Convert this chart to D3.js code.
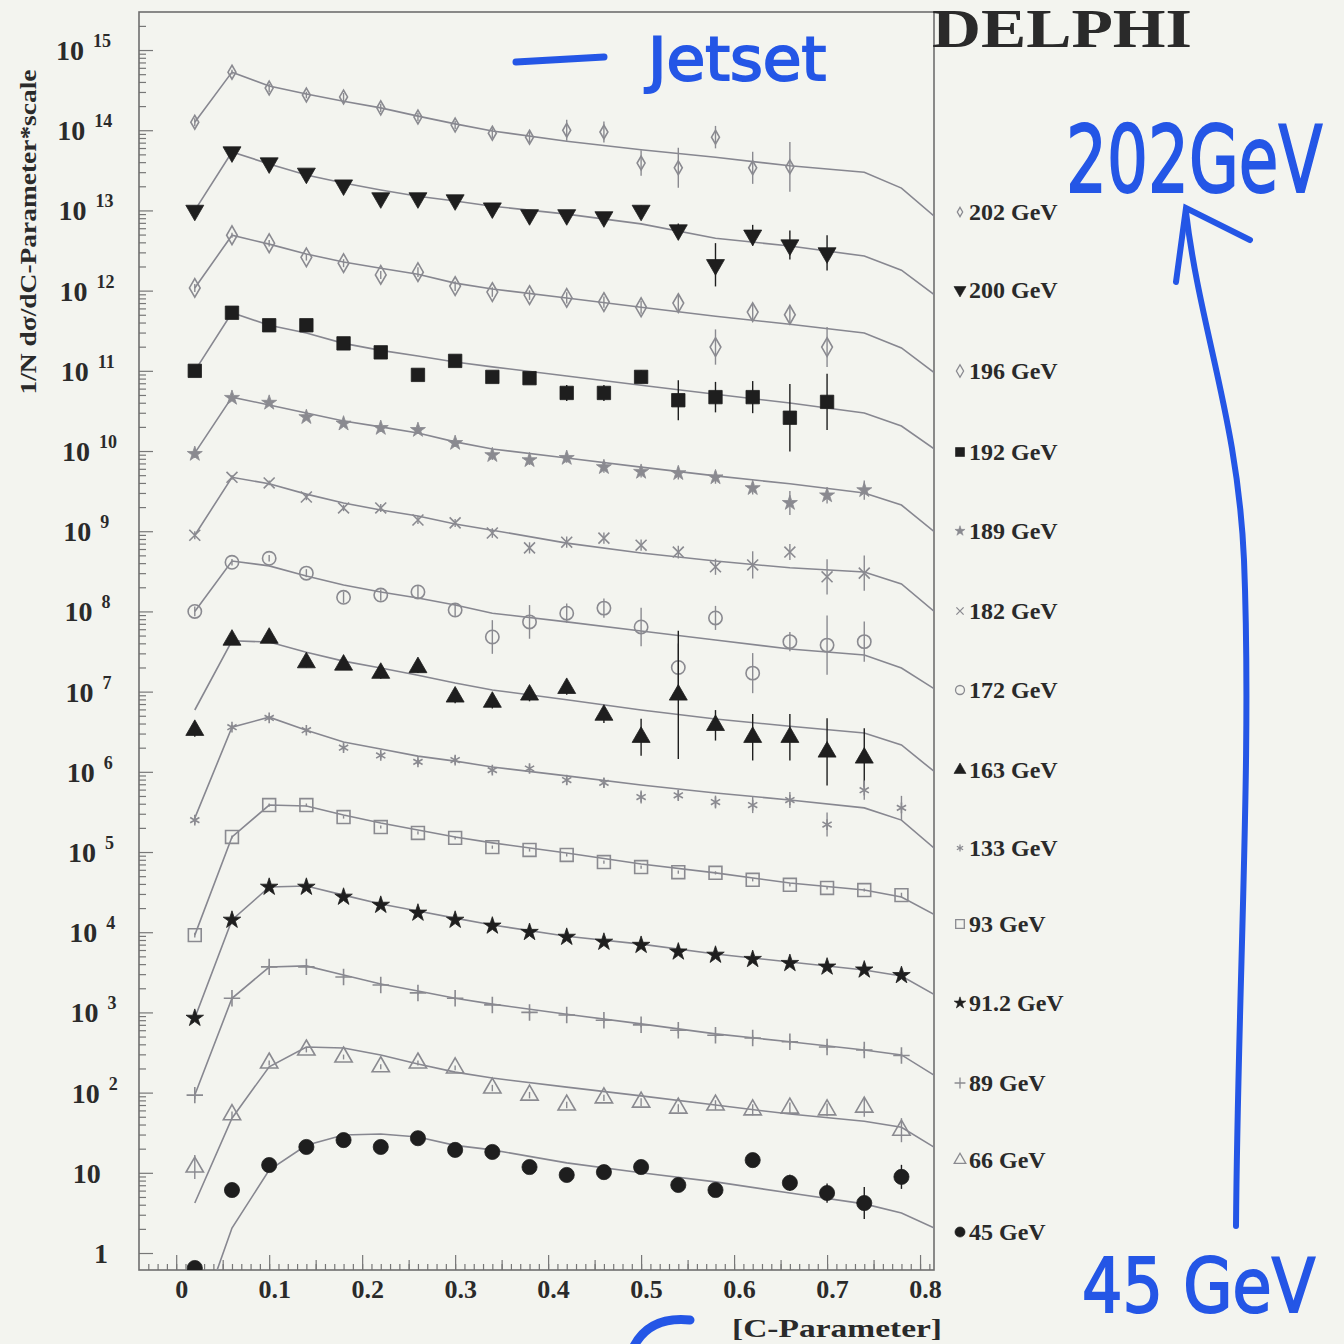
<!DOCTYPE html>
<html>
<head>
<meta charset="utf-8">
<script src="https://cdn.jsdelivr.net/npm/d3@7"></script>
<style>
  body { margin: 0; background: #f3f4ef; }
  svg text { font-family: "Liberation Serif", "Times New Roman", serif; font-weight: bold; fill: #2a2a2a; }
</style>
</head>
<body>
<svg id="chart" width="1344" height="1344"></svg>
<script>
// C-Parameter bin centres (data points)
const cBins = [0.02, 0.06, 0.10, 0.14, 0.18, 0.22, 0.26, 0.30, 0.34, 0.38,
               0.42, 0.46, 0.50, 0.54, 0.58, 0.62, 0.66, 0.70, 0.74, 0.78];
// x positions of the Jetset curve vertices
const lineX = [0.02, 0.06, 0.10, 0.14, 0.18, 0.22, 0.26, 0.30, 0.34, 0.42, 0.50, 0.58, 0.66, 0.74, 0.78, 0.82];

const energies = ['202 GeV', '200 GeV', '196 GeV', '192 GeV', '189 GeV', '182 GeV', '172 GeV',
                  '163 GeV', '133 GeV', '93 GeV', '91.2 GeV', '89 GeV', '66 GeV', '45 GeV'];

// measured 1/N dsigma/dC * scale, errors given in decades (log10 half-width)
const val202 = [1.26e14, 5.3e14, 3.35e14, 2.75e14, 2.6e14, 1.9e14, 1.46e14, 1.16e14, 9.2e13, 8.2e13, 1.0e14, 9.5e13, 3.9e13, 3.4e13, 8.2e13, 3.4e13, 3.5e13];
const err202 = [0.05, 0.03, 0.05, 0.04, 0.05, 0.05, 0.05, 0.05, 0.06, 0.07, 0.13, 0.13, 0.16, 0.25, 0.14, 0.2, 0.31];
const jet202 = [1.26e14, 5.3e14, 3.55e14, 2.83e14, 2.3e14, 1.9e14, 1.5e14, 1.2e14, 9.8e13, 7.3e13, 5.7e13, 4.6e13, 3.6e13, 3.0e13, 1.9e13, 7.6e12];

const val200 = [1.0e13, 5.35e13, 3.9e13, 2.9e13, 2.07e13, 1.43e13, 1.43e13, 1.35e13, 1.07e13, 8.8e12, 8.8e12, 8.3e12, 1.0e13, 5.7e12, 2.1e12, 4.9e12, 3.7e12, 2.95e12];
const err200 = [0.04, 0.03, 0.03, 0.03, 0.04, 0.04, 0.04, 0.05, 0.05, 0.05, 0.05, 0.06, 0.06, 0.08, 0.27, 0.13, 0.18, 0.22];
const jet200 = [1.0e13, 5.35e13, 3.8e13, 2.77e13, 2.2e13, 1.8e13, 1.5e13, 1.31e13, 1.13e13, 9.0e12, 6.8e12, 4.5e12, 3.6e12, 2.7e12, 1.8e12, 8.1e11];

const val196 = [1.08e12, 4.9e12, 3.9e12, 2.6e12, 2.2e12, 1.57e12, 1.7e12, 1.14e12, 9.6e11, 8.8e11, 8.1e11, 7.2e11, 6.2e11, 7.0e11, 1.98e11, 5.4e11, 5.0e11, 1.98e11];
const err196 = [0.05, 0.03, 0.04, 0.04, 0.05, 0.05, 0.06, 0.06, 0.06, 0.06, 0.07, 0.07, 0.08, 0.1, 0.22, 0.1, 0.12, 0.25];
const jet196 = [1.08e12, 4.9e12, 3.8e12, 2.86e12, 2.27e12, 1.9e12, 1.6e12, 1.24e12, 1.05e12, 8.1e11, 6.2e11, 4.8e11, 3.8e11, 2.96e11, 1.93e11, 8.6e10];

const val192 = [1.0e11, 5.3e11, 3.7e11, 3.7e11, 2.2e11, 1.7e11, 8.9e10, 1.33e11, 8.4e10, 8.1e10, 5.3e10, 5.3e10, 8.4e10, 4.3e10, 4.7e10, 4.7e10, 2.6e10, 4.1e10];
const err192 = [0.04, 0.03, 0.03, 0.04, 0.04, 0.05, 0.06, 0.06, 0.06, 0.07, 0.1, 0.1, 0.08, 0.25, 0.19, 0.2, 0.42, 0.35];
const jet192 = [1.0e11, 5.3e11, 3.7e11, 2.96e11, 2.2e11, 1.8e11, 1.53e11, 1.29e11, 1.12e11, 8.6e10, 6.6e10, 5.1e10, 3.97e10, 2.98e10, 2.05e10, 9.7e9];

const val189 = [9.2e9, 4.6e10, 4.0e10, 2.65e10, 2.2e10, 1.94e10, 1.83e10, 1.26e10, 8.9e9, 7.7e9, 8.2e9, 6.3e9, 5.5e9, 5.3e9, 4.7e9, 3.45e9, 2.25e9, 2.8e9, 3.25e9];
const err189 = [0.05, 0.03, 0.03, 0.04, 0.04, 0.05, 0.05, 0.05, 0.06, 0.06, 0.06, 0.07, 0.07, 0.08, 0.08, 0.08, 0.15, 0.1, 0.12];
const jet189 = [9.4e9, 4.7e10, 3.75e10, 2.98e10, 2.37e10, 2.0e10, 1.68e10, 1.3e10, 1.06e10, 8.2e9, 6.3e9, 4.9e9, 3.9e9, 3.0e9, 2.12e9, 8.9e8];

const val182 = [8.9e8, 4.7e9, 4.0e9, 2.67e9, 1.95e9, 1.95e9, 1.38e9, 1.27e9, 9.5e8, 6.2e8, 7.3e8, 8.2e8, 6.7e8, 5.5e8, 3.6e8, 3.8e8, 5.5e8, 2.7e8, 3.0e8];
const err182 = [0.05, 0.03, 0.03, 0.04, 0.04, 0.05, 0.05, 0.05, 0.06, 0.07, 0.07, 0.07, 0.07, 0.08, 0.1, 0.17, 0.1, 0.22, 0.22];
const jet182 = [8.9e8, 4.7e9, 3.9e9, 2.9e9, 2.25e9, 1.84e9, 1.55e9, 1.23e9, 1.03e9, 7.1e8, 5.35e8, 4.25e8, 3.5e8, 3.1e8, 2.2e8, 9.0e7];

const val172 = [1.0e8, 4.1e8, 4.6e8, 3.0e8, 1.5e8, 1.6e8, 1.75e8, 1.04e8, 4.8e7, 7.4e7, 9.5e7, 1.1e8, 6.4e7, 2.0e7, 8.3e7, 1.7e7, 4.2e7, 3.8e7, 4.2e7];
const err172 = [0.06, 0.04, 0.04, 0.05, 0.07, 0.07, 0.08, 0.08, 0.21, 0.21, 0.12, 0.12, 0.24, 0.3, 0.15, 0.25, 0.12, 0.37, 0.25];
const jet172 = [1.0e8, 4.25e8, 3.7e8, 2.77e8, 2.13e8, 1.75e8, 1.47e8, 1.2e8, 9.5e7, 7.4e7, 5.7e7, 4.4e7, 3.4e7, 2.86e7, 1.97e7, 1.0e7];

const val163 = [3.3e6, 4.4e7, 4.65e7, 2.3e7, 2.15e7, 1.7e7, 2.0e7, 8.6e6, 7.4e6, 9.1e6, 1.1e7, 5.1e6, 2.7e6, 9.1e6, 3.8e6, 2.7e6, 2.7e6, 1.77e6, 1.49e6];
const err163 = [0.08, 0.04, 0.04, 0.06, 0.06, 0.07, 0.07, 0.08, 0.08, 0.08, 0.08, 0.1, 0.23, 0.8, 0.19, 0.29, 0.29, 0.42, 0.37];
const jet163 = [5.9e6, 4.3e7, 4.15e7, 3.1e7, 2.4e7, 1.97e7, 1.6e7, 1.28e7, 1.05e7, 7.9e6, 5.9e6, 4.55e6, 3.7e6, 3.05e6, 2.16e6, 9.1e5];

const val133 = [2.5e5, 3.6e6, 4.7e6, 3.3e6, 2.0e6, 1.6e6, 1.33e6, 1.4e6, 1.05e6, 1.1e6, 7.9e5, 7.3e5, 4.85e5, 5.1e5, 4.2e5, 3.85e5, 4.45e5, 2.2e5, 5.9e5, 3.55e5];
const err133 = [0.05, 0.03, 0.03, 0.03, 0.04, 0.04, 0.04, 0.05, 0.05, 0.05, 0.06, 0.06, 0.08, 0.07, 0.08, 0.1, 0.1, 0.15, 0.12, 0.15];
const jet133 = [2.65e5, 3.6e6, 4.8e6, 3.3e6, 2.35e6, 1.93e6, 1.57e6, 1.36e6, 1.15e6, 8.9e5, 6.85e5, 5.45e5, 4.45e5, 3.55e5, 2.5e5, 1.0e5];

const val93 = [9.2e3, 1.54e5, 3.85e5, 3.85e5, 2.73e5, 2.05e5, 1.73e5, 1.5e5, 1.15e5, 1.06e5, 9.2e4, 7.5e4, 6.5e4, 5.6e4, 5.5e4, 4.5e4, 3.9e4, 3.56e4, 3.36e4, 2.9e4];
const err93 = [0.03, 0.02, 0.02, 0.02, 0.02, 0.02, 0.02, 0.02, 0.02, 0.02, 0.02, 0.02, 0.02, 0.02, 0.02, 0.02, 0.02, 0.02, 0.02, 0.03];
const jet93 = [9.2e3, 1.54e5, 3.85e5, 3.75e5, 2.9e5, 2.3e5, 1.88e5, 1.54e5, 1.3e5, 9.7e4, 7.1e4, 5.5e4, 4.1e4, 3.36e4, 2.75e4, 1.55e4];

const val912 = [8.5e2, 1.42e4, 3.66e4, 3.66e4, 2.75e4, 2.18e4, 1.74e4, 1.42e4, 1.2e4, 1.0e4, 8.7e3, 7.55e3, 6.9e3, 5.7e3, 5.2e3, 4.6e3, 4.1e3, 3.7e3, 3.4e3, 2.9e3];
const err912 = [0.02, 0.01, 0.01, 0.01, 0.01, 0.01, 0.01, 0.01, 0.01, 0.01, 0.01, 0.01, 0.01, 0.01, 0.01, 0.01, 0.01, 0.01, 0.01, 0.02];
const jet912 = [8.5e2, 1.42e4, 3.66e4, 3.77e4, 2.9e4, 2.25e4, 1.84e4, 1.5e4, 1.23e4, 8.9e3, 7.1e3, 5.35e3, 4.25e3, 3.38e3, 2.84e3, 1.56e3];

const val89 = [9.3e1, 1.5e3, 3.7e3, 3.7e3, 2.76e3, 2.2e3, 1.75e3, 1.5e3, 1.24e3, 1.0e3, 9.3e2, 8.0e2, 7.0e2, 6.0e2, 5.2e2, 4.8e2, 4.3e2, 3.7e2, 3.4e2, 2.9e2];
const err89 = [0.05, 0.02, 0.02, 0.02, 0.02, 0.02, 0.02, 0.02, 0.02, 0.02, 0.02, 0.03, 0.03, 0.04, 0.03, 0.03, 0.03, 0.04, 0.04, 0.04];
const jet89 = [9.35e1, 1.5e3, 3.68e3, 3.8e3, 2.93e3, 2.26e3, 1.85e3, 1.5e3, 1.27e3, 9.5e2, 7.2e2, 5.4e2, 4.3e2, 3.4e2, 2.95e2, 1.52e2];

const val66 = [1.18e1, 5.3e1, 2.34e2, 3.4e2, 2.78e2, 2.1e2, 2.34e2, 2.03e2, 1.14e2, 9.3e1, 7.0e1, 8.6e1, 7.6e1, 6.4e1, 7.0e1, 6.1e1, 6.4e1, 6.1e1, 6.6e1, 3.4e1];
const err66 = [0.15, 0.04, 0.03, 0.03, 0.03, 0.03, 0.03, 0.03, 0.04, 0.04, 0.04, 0.04, 0.05, 0.05, 0.06, 0.07, 0.07, 0.08, 0.12, 0.15];
const jet66 = [4.2, 4.8e1, 2.1e2, 3.7e2, 3.6e2, 2.95e2, 2.27e2, 1.8e2, 1.52e2, 1.17e2, 9.1e1, 7.0e1, 5.4e1, 4.4e1, 3.7e1, 1.93e1];

const val45 = [0.65, 6.1, 1.25e1, 2.1e1, 2.56e1, 2.1e1, 2.7e1, 1.93e1, 1.82e1, 1.18e1, 9.4, 1.02e1, 1.18e1, 7.05, 6.1, 1.44e1, 7.5, 5.6, 4.2, 8.9];
const err45 = [0.03, 0.03, 0.03, 0.03, 0.03, 0.03, 0.03, 0.04, 0.04, 0.05, 0.05, 0.05, 0.05, 0.08, 0.08, 0.07, 0.1, 0.12, 0.2, 0.15];
const jet45 = [0.1, 2.05, 1.08e1, 2.2e1, 2.96e1, 3.05e1, 2.8e1, 2.2e1, 1.93e1, 1.33e1, 1.0e1, 7.7, 5.6, 4.1, 3.15, 1.94];

const xTicks = [0, 0.1, 0.2, 0.3, 0.4, 0.5, 0.6, 0.7, 0.8];
const yDecades = d3.range(0, 16);

// marker styles
const GRAY = '#8a8a90', BLACK = '#1e1e1e';
const series = [
  { vals: val202, errs: err202, jet: jet202, sym: d3.symbolDiamond, size: 55, open: true, color: GRAY },
  { vals: val200, errs: err200, jet: jet200, sym: d3.symbolTriangle, size: 140, open: false, color: BLACK, rot: 180 },
  { vals: val196, errs: err196, jet: jet196, sym: d3.symbolDiamond, size: 100, open: true, color: GRAY },
  { vals: val192, errs: err192, jet: jet192, sym: d3.symbolSquare, size: 180, open: false, color: BLACK },
  { vals: val189, errs: err189, jet: jet189, sym: d3.symbolStar, size: 70, open: false, color: GRAY },
  { vals: val182, errs: err182, jet: jet182, sym: d3.symbolTimes, size: 80, open: true, color: GRAY },
  { vals: val172, errs: err172, jet: jet172, sym: d3.symbolCircle, size: 140, open: true, color: GRAY },
  { vals: val163, errs: err163, jet: jet163, sym: d3.symbolTriangle, size: 140, open: false, color: BLACK },
  { vals: val133, errs: err133, jet: jet133, sym: d3.symbolAsterisk, size: 80, open: true, color: GRAY },
  { vals: val93, errs: err93, jet: jet93, sym: d3.symbolSquare, size: 165, open: true, color: GRAY },
  { vals: val912, errs: err912, jet: jet912, sym: d3.symbolStar, size: 95, open: false, color: BLACK },
  { vals: val89, errs: err89, jet: jet89, sym: d3.symbolPlus, size: 90, open: true, color: GRAY },
  { vals: val66, errs: err66, jet: jet66, sym: d3.symbolTriangle, size: 130, open: true, color: GRAY },
  { vals: val45, errs: err45, jet: jet45, sym: d3.symbolCircle, size: 180, open: false, color: BLACK }
];
const legendY = [212, 290, 371, 452, 531, 611, 690, 770, 848, 924, 1003, 1083, 1160, 1232];

const svg = d3.select('#chart');
svg.append('rect').attr('width', 1344).attr('height', 1344).attr('fill', '#f3f4ef');

const frame = { left: 139, right: 934, top: 12, bottom: 1270 };
const x = d3.scaleLinear().domain([-0.04, 0.815]).range([frame.left, frame.right]);
const y = d3.scaleLog().domain([0.614, 2.98e15]).range([frame.bottom, frame.top]);

svg.append('clipPath').attr('id', 'plotClip')
  .append('rect')
  .attr('x', frame.left).attr('y', frame.top)
  .attr('width', frame.right - frame.left).attr('height', frame.bottom - frame.top);

// axes ticks (inward)
function styleAxis(g) {
  g.select('.domain').remove();
  g.selectAll('.tick line').attr('stroke', '#777').attr('stroke-width', 1.2);
}
svg.append('g').attr('transform', `translate(0,${frame.bottom})`)
  .call(d3.axisBottom(x).tickValues(d3.range(-3, 82).map(d => d / 100)).tickSize(-6).tickFormat(''))
  .call(styleAxis);
svg.append('g').attr('transform', `translate(0,${frame.bottom})`)
  .call(d3.axisBottom(x).tickValues(d3.range(1, 9).map(d => d / 10 - 0.05)).tickSize(-10).tickFormat(''))
  .call(styleAxis);
const xAxis = svg.append('g').attr('transform', `translate(0,${frame.bottom})`)
  .call(d3.axisBottom(x).tickValues(xTicks).tickSize(-15).tickPadding(10).tickFormat(d3.format('.1~f')))
  .call(styleAxis);
xAxis.selectAll('.tick text').attr('font-size', 26).attr('fill', '#2a2a2a')
  .attr('font-family', '"Liberation Serif", serif').attr('font-weight', 'bold').attr('dx', 5);

const minorY = [];
yDecades.forEach(k => d3.range(2, 10).forEach(m => minorY.push(m * Math.pow(10, k))));
svg.append('g').attr('transform', `translate(${frame.left},0)`)
  .call(d3.axisLeft(y).tickValues(minorY.filter(v => v > 0.62 && v < 2.9e15)).tickSize(-7).tickFormat(''))
  .call(styleAxis);
svg.append('g').attr('transform', `translate(${frame.left},0)`)
  .call(d3.axisLeft(y).tickValues(yDecades.map(k => Math.pow(10, k))).tickSize(-14).tickFormat(''))
  .call(styleAxis);

// frame
svg.append('rect')
  .attr('x', frame.left).attr('y', frame.top)
  .attr('width', frame.right - frame.left).attr('height', frame.bottom - frame.top)
  .attr('fill', 'none').attr('stroke', '#6e6e6e').attr('stroke-width', 1.6);

// y labels 10^k
yDecades.forEach(k => {
  const yy = y(Math.pow(10, k));
  const x0 = 56 + (yy - 50) * 0.015;
  const t = svg.append('text').attr('y', yy + 10).attr('font-size', 28);
  if (k === 0) {
    t.attr('x', x0 + 20).text('1');
  } else {
    t.attr('x', x0).append('tspan').text('10');
    if (k > 1) {
      t.append('tspan').attr('dx', 9).attr('dy', -13).attr('font-size', 18).text(k);
    }
  }
});

// axis titles
svg.append('text')
  .attr('transform', 'translate(36,232) rotate(-90)')
  .attr('text-anchor', 'middle').attr('font-size', 23)
  .attr('textLength', 325).attr('lengthAdjust', 'spacingAndGlyphs')
  .text('1/N dσ/dC-Parameter*scale');
svg.append('text')
  .attr('x', 732).attr('y', 1337).attr('font-size', 26)
  .attr('textLength', 210).attr('lengthAdjust', 'spacingAndGlyphs')
  .text('[C-Parameter]');
svg.append('text')
  .attr('x', 932).attr('y', 47).attr('font-size', 54)
  .attr('textLength', 260).attr('lengthAdjust', 'spacingAndGlyphs')
  .text('DELPHI');

// data
const plot = svg.append('g').attr('clip-path', 'url(#plotClip)');
const jetLine = d3.line().x((d, i) => x(lineX[i])).y(d => y(d));

series.forEach(s => {
  plot.append('path').datum(s.jet)
    .attr('d', jetLine)
    .attr('fill', 'none').attr('stroke', '#878790').attr('stroke-width', 1.6);
});

series.forEach(s => {
  const pts = s.vals.map((v, i) => ({ c: cBins[i], v: v, e: s.errs[i] }));
  const g = plot.append('g');
  g.selectAll('line.err').data(pts).enter().append('line')
    .attr('class', 'err')
    .attr('x1', d => x(d.c)).attr('x2', d => x(d.c))
    .attr('y1', d => y(d.v / Math.pow(10, d.e))).attr('y2', d => y(d.v * Math.pow(10, d.e)))
    .attr('stroke', s.color).attr('stroke-width', 1.4);
  g.selectAll('path.mk').data(pts).enter().append('path')
    .attr('class', 'mk')
    .attr('d', d3.symbol().type(s.sym).size(s.size))
    .attr('transform', d => `translate(${x(d.c)},${y(d.v)}) rotate(${s.rot || 0})`)
    .attr('fill', s.open ? 'none' : s.color)
    .attr('stroke', s.color).attr('stroke-width', s.open ? 1.6 : 0.8);
});

// legend
const legend = svg.append('g');
series.forEach((s, i) => {
  const ly = legendY[i];
  legend.append('path')
    .attr('d', d3.symbol().type(s.sym).size(s.size * 0.45))
    .attr('transform', `translate(960,${ly}) rotate(${s.rot || 0})`)
    .attr('fill', s.open ? 'none' : s.color)
    .attr('stroke', s.color).attr('stroke-width', s.open ? 1.3 : 0.6);
  legend.append('text')
    .attr('x', 969).attr('y', ly + 8).attr('font-size', 24)
    .text(energies[i]);
});

// blue hand annotations (narrowed with a scale instead of textLength)
const blue = '#2456e6';
const handStyle = 'fill:#2456e6;stroke:#2456e6;stroke-width:2;font-family:"DejaVu Sans",sans-serif;font-weight:normal';
const ann = svg.append('g').attr('stroke', blue).attr('fill', 'none').attr('stroke-linecap', 'round');
ann.append('path').attr('d', 'M516,62 L604,57').attr('stroke-width', 7);
svg.append('text')
  .attr('transform', 'translate(648,80) scale(1.05,1)')
  .attr('font-size', 60)
  .attr('style', handStyle)
  .text('Jetset');
svg.append('text')
  .attr('transform', 'translate(1066,192) scale(0.7,1)')
  .attr('font-size', 92)
  .attr('style', handStyle)
  .text('202GeV');
svg.append('text')
  .attr('transform', 'translate(1082,1312) scale(0.86,1)')
  .attr('font-size', 74)
  .attr('style', handStyle)
  .text('45 GeV');
ann.append('path')
  .attr('d', 'M1236,1226 C1238,980 1252,760 1244,560 C1238,420 1200,330 1186,212')
  .attr('stroke-width', 6);
ann.append('path').attr('d', 'M1176,282 L1186,208 L1250,240').attr('stroke-width', 6);
ann.append('path').attr('d', 'M634,1346 Q650,1316 690,1320').attr('stroke-width', 9);
</script>
</body>
</html>
